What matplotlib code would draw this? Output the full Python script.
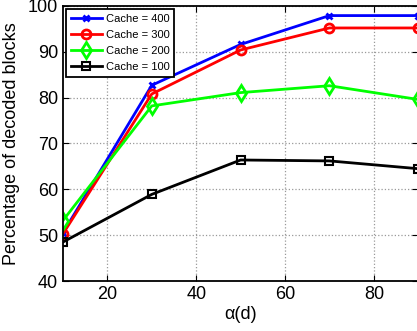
import matplotlib
matplotlib.use("Agg")
import matplotlib.pyplot as plt

plt.rcParams['font.family'] = ['Liberation Sans', 'DejaVu Sans']

# alpha(d) values
alpha = [10, 30, 50, 70, 90]

cache_400 = [50.5, 82.7, 91.6, 97.9, 97.9]
cache_300 = [50.3, 80.8, 90.4, 95.2, 95.2]
cache_200 = [53.2, 78.2, 81.1, 82.6, 79.6]
cache_100 = [48.5, 58.9, 66.4, 66.2, 64.5]

fig = plt.figure(figsize=(4.17, 3.31), dpi=100)
ax = fig.add_axes([0.151, 0.151, 0.852, 0.831])

ax.plot(alpha, cache_400, color='#0000ff', marker='x', ms=5, mew=2, lw=2, label='Cache = 400')
ax.plot(alpha, cache_300, color='#ff0000', marker='o', ms=6.5, mfc='none', mew=2, lw=2, label='Cache = 300')
ax.plot(alpha, cache_200, color='#00ff00', marker='d', ms=8, mfc='none', mew=2, lw=2, label='Cache = 200')
ax.plot(alpha, cache_100, color='black', marker='s', ms=6, mfc='none', mew=1.5, lw=2, label='Cache = 100')

ax.set_xlim(10, 90)
ax.set_ylim(40, 100)
ax.set_xticks([20, 40, 60, 80])
ax.set_yticks([40, 50, 60, 70, 80, 90, 100])
ax.tick_params(direction='in', labelsize=13, length=4, top=True, right=True)
ax.grid(True, linestyle=':', color='#999999', linewidth=0.9)
for s in ax.spines.values():
    s.set_linewidth(1.3)

ax.set_xlabel(r'α(d)', fontsize=13, labelpad=2)
ax.set_ylabel('Percentage of decoded blocks', fontsize=13, labelpad=6)

leg = ax.legend(loc='upper left', fontsize=8, handlelength=2.8, labelspacing=0.55,
                borderaxespad=0.3, fancybox=False, framealpha=1, edgecolor='black',
                borderpad=0.4, handletextpad=0.4)
leg.get_frame().set_linewidth(1.3)

fig.savefig('out.png', dpi=100)
